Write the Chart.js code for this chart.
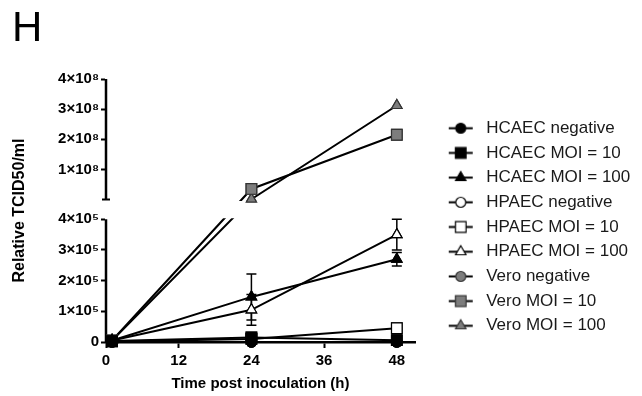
<!DOCTYPE html>
<html>
<head>
  <meta charset="UTF-8">
  <title>H - Relative TCID50/ml</title>
  <script src="https://cdn.jsdelivr.net/npm/chart.js"></script>
  <style>
    body {
      margin: 0;
      background: #fff;
      font-family: "Liberation Sans", Arial, sans-serif;
    }

    #wrap {
      position: relative;
      width: 642px;
      height: 396px;
    }

    #wrap canvas {
      position: absolute;
      left: 0;
      top: 0;
    }

    #panel {
      position: absolute;
      left: 12px;
      top: 6px;
      font-size: 42px;
      line-height: 42px;
      color: #000;
    }
  </style>
</head>
<body>
  <div id="wrap">
    <canvas id="tcidChart" width="642" height="396"></canvas>
    <div id="panel">H</div>
  </div>

  <script>
    // time points (h) and x axis ticks
    const hours = [1, 24, 48];
    const xTicks = [0, 12, 24, 36, 48];

    // broken y axis: lower part 0..4x10^5, upper part up to 4x10^8
    const yTicks = [0, 1e5, 2e5, 3e5, 4e5, 1e8, 2e8, 3e8, 4e8];
    const yTickLabels = ['0', '1×10⁵', '2×10⁵', '3×10⁵', '4×10⁵', '1×10⁸', '2×10⁸', '3×10⁸', '4×10⁸'];

    // series values
    const hcaecNeg = [0, 0, 0];
    const hcaecMoi10 = [0.03e5, 0.15e5, 0.06e5];
    const hcaecMoi100 = [0.05e5, 1.47e5, 2.7e5];
    const hcaecMoi100Err = [0, 0.75e5, 0.22e5];
    const hpaecNeg = [0, 0, 0];
    const hpaecMoi10 = [0.02e5, 0.1e5, 0.45e5];
    const hpaecMoi100 = [0.05e5, 1.05e5, 3.5e5];
    const hpaecMoi100Err = [0, 0.5e5, 0.5e5];
    const veroNeg = [0, 0, 0];
    const veroMoi10 = [0.05e5, 0.35e8, 2.15e8];
    const veroMoi100 = [0.05e5, 0.01e8, 3.12e8];

    const LOW_MAX = 4e5;
    const UP_MAX = 4e8;
    const LOW_FRAC = 0.4665;  // share of the axis height used by the lower part
    const UP_START = 0.5418;  // where the upper part starts

    const FONT = "'Liberation Sans', Arial, sans-serif";

    // linear scale with a gap in it
    class BrokenScale extends Chart.LinearScale {
      determineDataLimits() {
        this.min = 0;
        this.max = UP_MAX;
      }
      buildTicks() {
        return yTicks.map(v => ({ value: v }));
      }
      fracFor(v) {
        if (v <= LOW_MAX) return v / LOW_MAX * LOW_FRAC;
        return UP_START + v / UP_MAX * (1 - UP_START);
      }
      getPixelForValue(v) {
        return this.bottom - this.fracFor(v) * (this.bottom - this.top);
      }
      getValueForPixel(p) {
        const f = (this.bottom - p) / (this.bottom - this.top);
        if (f <= LOW_FRAC) return f / LOW_FRAC * LOW_MAX;
        return (f - UP_START) / (1 - UP_START) * UP_MAX;
      }
      upperBase() {
        return this.bottom - UP_START * (this.bottom - this.top);
      }
      drawBorder() {
        const ctx = this.ctx;
        const x = this.right;
        const lowTop = this.getPixelForValue(LOW_MAX);
        const upBase = this.upperBase();
        ctx.save();
        ctx.strokeStyle = '#000';
        ctx.lineWidth = 2.5;
        ctx.beginPath();
        ctx.moveTo(x, this.bottom + 1.25);
        ctx.lineTo(x, lowTop);
        ctx.moveTo(x, upBase);
        ctx.lineTo(x, this.top);
        ctx.stroke();
        // end cap of the upper part
        ctx.lineWidth = 2;
        ctx.beginPath();
        ctx.moveTo(x - 4, upBase);
        ctx.lineTo(x + 4, upBase);
        ctx.stroke();
        ctx.restore();
      }
    }
    BrokenScale.id = 'broken';
    BrokenScale.defaults = {};
    Chart.register(BrokenScale);

    // error bars, gap clipping and markers on top
    const brokenAxisPlugin = {
      id: 'brokenAxis',
      beforeDatasetsDraw(chart) {
        const ctx = chart.ctx;
        const xs = chart.scales.x;
        const ys = chart.scales.y;

        ctx.save();
        ctx.strokeStyle = '#000';
        ctx.lineWidth = 1.5;
        chart.data.datasets.forEach(ds => {
          if (!ds.errorBars) return;
          ds.errorBars.forEach((e, i) => {
            if (!e) return;
            const x = xs.getPixelForValue(hours[i]);
            const hi = ys.getPixelForValue(ds.data[i] + e);
            const lo = ys.getPixelForValue(Math.max(0, ds.data[i] - e));
            ctx.beginPath();
            ctx.moveTo(x, hi); ctx.lineTo(x, lo);
            ctx.moveTo(x - 5, hi); ctx.lineTo(x + 5, hi);
            ctx.moveTo(x - 5, lo); ctx.lineTo(x + 5, lo);
            ctx.stroke();
          });
        });
        ctx.restore();

        // hide lines inside the axis break
        const gapTop = ys.upperBase() + 1.5;
        const gapBottom = ys.getPixelForValue(LOW_MAX) - 1;
        ctx.save();
        ctx.beginPath();
        ctx.rect(0, 0, chart.width, gapTop);
        ctx.rect(0, gapBottom, chart.width, chart.height - gapBottom);
        ctx.clip();
      },
      afterDatasetsDraw(chart) {
        const ctx = chart.ctx;
        ctx.restore();
        const area = { left: 0, top: 0, right: chart.width, bottom: chart.height };
        for (let i = chart.data.datasets.length - 1; i >= 0; i--) {
          chart.getDatasetMeta(i).data.forEach(pt => pt.draw(ctx, area));
        }
      }
    };

    function series(label, data, pointStyle, fill, border, radius, errorBars) {
      return {
        label: label,
        data: data,
        errorBars: errorBars,
        borderColor: '#000',
        borderWidth: 2,
        fill: false,
        tension: 0,
        pointStyle: pointStyle,
        pointRadius: radius,
        pointBackgroundColor: fill,
        pointBorderColor: border,
        pointBorderWidth: 1.2
      };
    }

    const datasets = [
      series('HCAEC negative', hcaecNeg, 'circle', '#000', '#000', 5),
      series('HCAEC MOI = 10', hcaecMoi10, 'rect', '#000', '#000', 7.5),
      series('HCAEC MOI = 100', hcaecMoi100, 'triangle', '#000', '#000', 6, hcaecMoi100Err),
      series('HPAEC negative', hpaecNeg, 'circle', '#fff', '#000', 5),
      series('HPAEC MOI = 10', hpaecMoi10, 'rect', '#fff', '#000', 7.5),
      series('HPAEC MOI = 100', hpaecMoi100, 'triangle', '#fff', '#000', 6, hpaecMoi100Err),
      series('Vero negative', veroNeg, 'circle', '#7d7d7d', '#333', 5),
      series('Vero MOI = 10', veroMoi10, 'rect', '#7d7d7d', '#333', 7.5),
      series('Vero MOI = 100', veroMoi100, 'triangle', '#7d7d7d', '#333', 6)
    ];

    // legend symbol: short line with the marker on it
    function legendIcon(ds) {
      const c = document.createElement('canvas');
      c.width = 55;
      c.height = 17;
      const g = c.getContext('2d');
      g.strokeStyle = '#000';
      g.lineWidth = 2;
      g.beginPath();
      g.moveTo(26, 8.5);
      g.lineTo(50, 8.5);
      g.stroke();
      g.fillStyle = ds.pointBackgroundColor;
      g.strokeStyle = ds.pointBorderColor;
      g.lineWidth = ds.pointBorderWidth;
      Chart.helpers.drawPoint(g, {
        pointStyle: ds.pointStyle,
        radius: ds.pointRadius,
        borderWidth: ds.pointBorderWidth,
        rotation: 0
      }, 38, 8.5);
      return c;
    }
    const legendIcons = datasets.map(legendIcon);

    const ctx = document.getElementById('tcidChart').getContext('2d');
    const tcidChart = new Chart(ctx, {
      type: 'line',
      data: {
        labels: hours,
        datasets: datasets
      },
      plugins: [brokenAxisPlugin],
      options: {
        responsive: false,
        animation: false,
        events: [],
        layout: {
          padding: { top: 79, right: 7, bottom: 0, left: 0 }
        },
        plugins: {
          tooltip: { enabled: false },
          legend: {
            position: 'right',
            align: 'end',
            fullSize: false,
            maxWidth: 220,
            labels: {
              usePointStyle: true,
              pointStyleWidth: 55,
              padding: 7.7,
              color: '#1a1a1a',
              font: { family: FONT, size: 17 },
              generateLabels(chart) {
                return Chart.defaults.plugins.legend.labels.generateLabels(chart)
                  .map((item, i) => Object.assign(item, { pointStyle: legendIcons[i] }));
              }
            }
          }
        },
        scales: {
          x: {
            type: 'linear',
            min: 0,
            max: 51,
            afterBuildTicks(s) { s.ticks = xTicks.map(v => ({ value: v })); },
            afterFit(s) { s.height = 54; },
            border: { display: true, width: 2.5, color: '#000' },
            grid: { drawOnChartArea: false, tickLength: 6, tickWidth: 2, tickColor: '#000' },
            ticks: {
              autoSkip: false,
              maxRotation: 0,
              padding: 4,
              color: '#000',
              font: { family: FONT, size: 15, weight: 'bold' },
              callback: v => String(v)
            },
            title: {
              display: true,
              text: 'Time post inoculation (h)',
              color: '#000',
              font: { family: FONT, size: 15, weight: 'bold' },
              padding: { top: 0, bottom: 3.5 }
            }
          },
          y: {
            type: 'broken',
            afterFit(s) { s.width = 106; },
            border: { display: true, width: 2.5, color: '#000' },
            grid: { drawOnChartArea: false, tickLength: 5, tickWidth: 2, tickColor: '#000' },
            ticks: {
              autoSkip: false,
              padding: 2,
              color: '#000',
              font: { family: FONT, size: 15, weight: 'bold' },
              callback: (v, i) => yTickLabels[i]
            },
            title: {
              display: true,
              text: 'Relative TCID50/ml',
              color: '#000',
              font: { family: FONT, size: 16, weight: 'bold' },
              padding: { top: 10, bottom: 0 }
            }
          }
        }
      }
    });
  </script>
</body>
</html>
